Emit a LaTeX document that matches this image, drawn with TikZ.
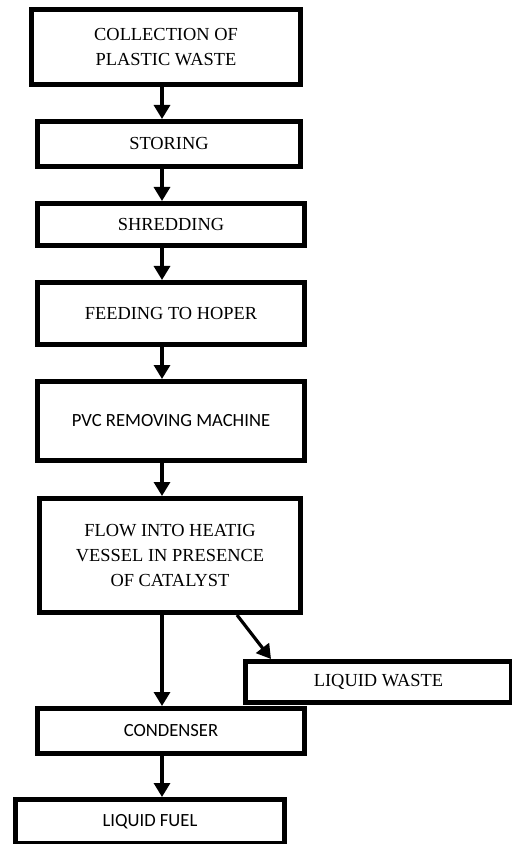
\documentclass[tikz,border=0pt]{standalone}
\usepackage{fontspec}
\setmainfont{Liberation Serif}
\newfontfamily\calibri{Carlito}
\usetikzlibrary{arrows.meta}
\begin{document}
\begin{tikzpicture}[x=0.5pt,y=-0.5pt,
    box/.style={draw, rectangle, line width=2.7pt, inner sep=0pt, align=center,
      font=\fontsize{9.2}{12.5}\selectfont},
    sbox/.style={box, font=\calibri\fontsize{9.3}{12.5}\selectfont},
    flow/.style={line width=1.6pt, -{Triangle[width=8pt,length=7pt]}}]
  \useasboundingbox (0,0) rectangle (511,844);
  \draw
    (166,47) node[box, minimum width=134.3pt, minimum height=37.3pt] (collect) {COLLECTION OF\\PLASTIC WASTE}
    (169,144) node[box, minimum width=131.3pt, minimum height=22.3pt] (store) {STORING}
    (171,224.5) node[box, minimum width=133.3pt, minimum height=20.8pt] (shred) {SHREDDING}
    (171,313.5) node[box, minimum width=133.3pt, minimum height=30.8pt] (feed) {FEEDING TO HOPER}
    (171,421) node[sbox, minimum width=133.3pt, minimum height=39.3pt] (pvc) {PVC REMOVING MACHINE}
    (170,555.5) node[box, minimum width=130.3pt, minimum height=56.8pt] (heat) {FLOW INTO HEATIG\\VESSEL IN PRESENCE\\OF CATALYST}
    (378.5,682) node[box, minimum width=132.8pt, minimum height=20.3pt] (waste) {LIQUID WASTE}
    (171,731) node[sbox, minimum width=133.3pt, minimum height=22.3pt] (cond) {CONDENSER}
    (150,821.5) node[sbox, minimum width=134.3pt, minimum height=21.8pt] (fuel) {LIQUID FUEL};
  \coordinate (spine) at (162,0);
  \begin{scope}[flow]
    \draw (collect.south -| spine) -- (store.north -| spine);
    \draw (store.south -| spine) -- (shred.north -| spine);
    \draw (shred.south -| spine) -- (feed.north -| spine);
    \draw (feed.south -| spine) -- (pvc.north -| spine);
    \draw (pvc.south -| spine) -- (heat.north -| spine);
    \draw (heat.south -| spine) -- (cond.north -| spine);
    \draw ([xshift=33.5pt]heat.south) -- ([xshift=14pt]waste.north west);
    \draw (cond.south -| spine) -- (fuel.north -| spine);
  \end{scope}
\end{tikzpicture}
\end{document}
